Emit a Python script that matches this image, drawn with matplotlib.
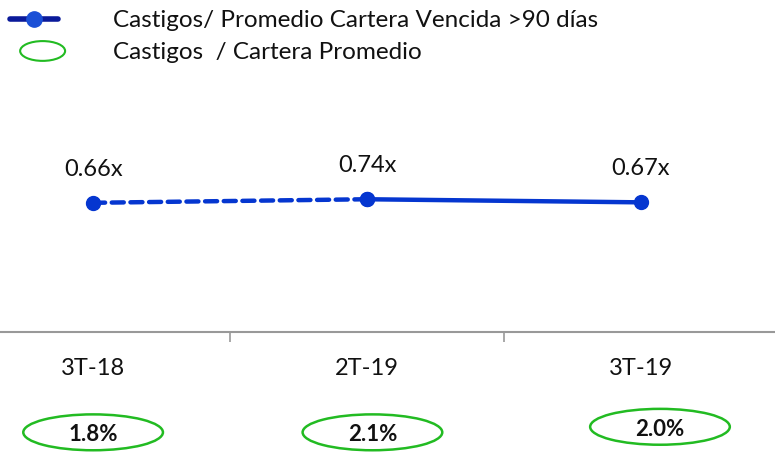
import matplotlib.pyplot as plt
from matplotlib.patches import Ellipse
from matplotlib.lines import Line2D
from matplotlib.transforms import blended_transform_factory

plt.rcParams['font.family'] = ['Lato', 'DejaVu Sans']

categories = ['3T-18', '2T-19', '3T-19']
ratio_values = [0.66, 0.74, 0.67]
ratio_labels = ['0.66x', '0.74x', '0.67x']
pct_labels = ['1.8%', '2.1%', '2.0%']

blue = '#0536d0'
green = '#22bb22'

fig = plt.figure(figsize=(7.75, 4.6), dpi=100)
ax = fig.add_axes([0, 0.276, 1, 0.51])

x = list(range(len(categories)))
ax.plot(x[:2], ratio_values[:2], color=blue, lw=3.2, ls=(0, (2.7, 1.5)),
        marker='o', markersize=10, solid_capstyle='round', dash_capstyle='round')
ax.plot(x[1:], ratio_values[1:], color=blue, lw=3.2, marker='o', markersize=10)

for xi, v, lab in zip(x, ratio_values, ratio_labels):
    ax.annotate(lab, (xi, v), xytext=(0, 25), textcoords='offset points',
                ha='center', va='center', fontsize=17, color='#111111')

ax.set_xlim(-0.34, 2.49)
ax.set_ylim(-2.26, 3.04)

for s in ['top', 'left', 'right']:
    ax.spines[s].set_visible(False)
ax.spines['bottom'].set_color('#999999')
ax.spines['bottom'].set_linewidth(1.5)
ax.set_yticks([])
ax.set_xticks(x)
ax.set_xticklabels(categories, fontsize=17, color='#111111')
ax.tick_params(axis='x', which='major', length=0, pad=18)
ax.set_xticks([0.5, 1.5], minor=True)
ax.tick_params(axis='x', which='minor', length=7, width=1.2, color='#999999', direction='out')

# ellipses with the percentage below the axis
trans = blended_transform_factory(ax.transData, fig.transFigure)
ell_shift = [0.0, 0.02, 0.07]
ell_y = [0.058, 0.058, 0.07]
for xi, lab, dx, ey in zip(x, pct_labels, ell_shift, ell_y):
    ax.add_patch(Ellipse((xi + dx, ey), 0.51, 0.078, transform=trans,
                         fill=False, edgecolor=green, lw=1.8, clip_on=False))
    ax.text(xi + dx, ey - 0.003, lab, transform=trans, ha='center', va='center',
            fontsize=16, fontweight='bold', color='#111111')

# legend drawn by hand
fig.add_artist(Line2D([0.013, 0.075], [0.957, 0.957], color='#0a1a9a', lw=4,
                      solid_capstyle='round'))
fig.add_artist(Line2D([0.044], [0.957], marker='o', markersize=11, color='#1a4fd6', lw=0))
fig.add_artist(Ellipse((0.055, 0.887), 0.058, 0.043, transform=fig.transFigure,
                       fill=False, edgecolor=green, lw=1.5))
fig.text(0.146, 0.955, 'Castigos/ Promedio Cartera Vencida >90 días', fontsize=17.5,
         va='center', color='#111111')
fig.text(0.146, 0.885, 'Castigos  / Cartera Promedio', fontsize=17.5,
         va='center', color='#111111')

fig.savefig('out.png', dpi=100)
